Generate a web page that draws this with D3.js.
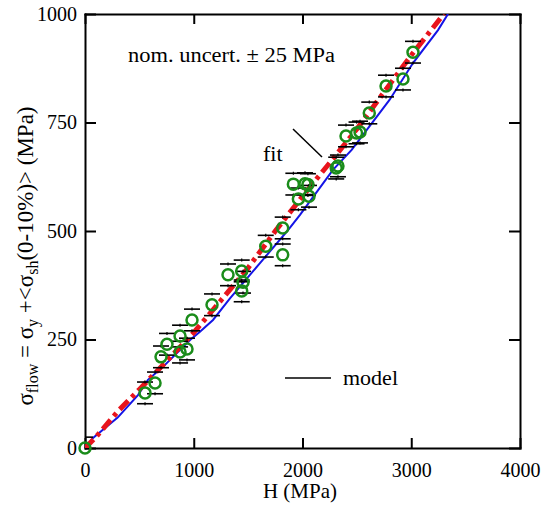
<!DOCTYPE html>
<html>
<head>
<meta charset="utf-8">
<script src="https://cdn.jsdelivr.net/npm/d3@7"></script>
<style>
  body { margin: 0; background: #fff; }
  svg text { font-family: "Liberation Serif", "Times New Roman", serif; fill: #000; }
  .axis path, .axis line { stroke: #000; stroke-width: 2; }
  .axis text { font-size: 20px; }
</style>
</head>
<body>
<div id="chart"></div>
<script>
// measured points: H (MPa) and flow stress (MPa)
const pointH = [0, 552, 644, 699, 754, 874, 874, 938, 984, 1168, 1315, 1441, 1453, 1441, 1662, 1818, 1818,
  1916, 2023, 2050, 1962, 2060, 2310, 2326, 2400, 2497, 2529, 2614, 2768, 2924, 3016];
const pointS = [0, 127, 150, 210, 239, 258, 221, 228, 295, 330, 399, 408, 382, 362, 465, 445, 507,
  608, 609, 607, 574, 580, 645, 650, 719, 726, 728, 772, 834, 850, 912];
const uncert = 25;

// model curve (blue)
const modelH = [0, 16, 74, 300, 487, 579, 717, 966, 1057, 1177, 1333, 1609, 1867, 1977, 2280, 2452, 2800, 3016, 3246, 3338];
const modelS = [0, 3, 23, 70, 122, 157, 187, 249, 268, 295, 345, 426, 502, 537, 641, 687, 802, 887, 963, 1000];

// fit curve (red dash-dot)
const fitH = [0, 100, 300, 500, 750, 1000, 1250, 1500, 1750, 2000, 2250, 2500, 2750, 3000, 3300];
const fitS = [0, 25, 84, 135, 200, 266, 340, 415, 500, 580, 657, 735, 820, 905, 1000];

const xTicks = [0, 1000, 2000, 3000, 4000];
const yTicks = [0, 250, 500, 750, 1000];

const W = 555, H = 510;
const margin = { left: 85, top: 14, right: 35, bottom: 62 };
const width = W - margin.left - margin.right;
const height = H - margin.top - margin.bottom;
const serif = "'Liberation Serif', 'Times New Roman', serif";

const svg = d3.select("#chart").append("svg")
  .attr("width", W).attr("height", H);
const g = svg.append("g").attr("transform", `translate(${margin.left},${margin.top})`);

//----------------------------SCALES----------------------------//
const x = d3.scaleLinear().domain([0, 4000]).range([0, width]);
const y = d3.scaleLinear().domain([0, 1000]).range([height, 0]);
const fmt = d3.format("d");

g.append("clipPath").attr("id", "clip")
  .append("rect").attr("width", width).attr("height", height);

//-----------------------------AXES-----------------------------//
g.append("g").attr("class", "axis")
  .attr("transform", `translate(0,${height})`)
  .call(d3.axisBottom(x).tickValues(xTicks).tickFormat(fmt).tickSizeInner(-10).tickSizeOuter(0).tickPadding(15));
g.append("g").attr("class", "axis")
  .call(d3.axisTop(x).tickValues(xTicks).tickSizeInner(-10).tickSizeOuter(0).tickFormat(""));
g.append("g").attr("class", "axis")
  .call(d3.axisLeft(y).tickValues(yTicks).tickFormat(fmt).tickSizeInner(-11).tickSizeOuter(0).tickPadding(8));
g.append("g").attr("class", "axis")
  .attr("transform", `translate(${width},0)`)
  .call(d3.axisRight(y).tickValues(yTicks).tickSizeInner(-11).tickSizeOuter(0).tickFormat(""));
g.selectAll(".axis").attr("font-family", serif).attr("font-size", 20);
g.selectAll(".axis .domain").attr("stroke-linecap", "square");

//----------------------------LINES-----------------------------//
const plot = g.append("g").attr("clip-path", "url(#clip)");
const line = d3.line().x(d => x(d[0])).y(d => y(d[1]));

plot.append("path")
  .attr("d", line(modelH.map((h, i) => [h, modelS[i]])))
  .attr("fill", "none").attr("stroke", "#1414e6").attr("stroke-width", 2);

plot.append("path")
  .attr("d", line(fitH.map((h, i) => [h, fitS[i]])))
  .attr("fill", "none").attr("stroke", "#e8141c").attr("stroke-width", 5)
  .attr("stroke-dasharray", "12,5,4,5");

// error caps (+/- nominal uncertainty)
const pts = pointH.map((h, i) => ({ h: h, s: pointS[i] }));
const caps = plot.selectAll(".cap").data(pts.flatMap(d => [[d.h, d.s + uncert], [d.h, d.s - uncert]]))
  .enter().append("g").attr("class", "cap");
caps.append("line")
  .attr("x1", d => x(d[0]) - 8).attr("x2", d => x(d[0]) + 8)
  .attr("y1", d => y(d[1])).attr("y2", d => y(d[1]))
  .attr("stroke", "#000").attr("stroke-width", 1.6);
caps.append("line")
  .attr("x1", d => x(d[0])).attr("x2", d => x(d[0]))
  .attr("y1", d => y(d[1]) - 1.5).attr("y2", d => y(d[1]) + 1.5)
  .attr("stroke", "#000").attr("stroke-width", 1.2);

//---------------------------POINTS-----------------------------//
g.selectAll(".pt").data(pts).enter().append("circle")
  .attr("cx", d => x(d.h)).attr("cy", d => y(d.s)).attr("r", 5.5)
  .attr("fill", "none").attr("stroke", "#1a8c1a").attr("stroke-width", 2.5);

//--------------------------ANNOTATION--------------------------//
svg.append("text").attr("x", 128).attr("y", 62)
  .attr("font-size", 20).attr("textLength", 207).attr("lengthAdjust", "spacingAndGlyphs")
  .text("nom. uncert. ± 25 MPa");

svg.append("text").attr("x", 263).attr("y", 161).attr("font-size", 22).text("fit");
svg.append("line").attr("x1", 293).attr("y1", 129).attr("x2", 322).attr("y2", 157)
  .attr("stroke", "#000").attr("stroke-width", 1.5);

svg.append("line").attr("x1", 285).attr("y1", 378).attr("x2", 331).attr("y2", 378)
  .attr("stroke", "#000").attr("stroke-width", 1.5);
svg.append("text").attr("x", 343).attr("y", 385)
  .attr("font-size", 20).attr("textLength", 55).attr("lengthAdjust", "spacingAndGlyphs")
  .text("model");

// axis titles
svg.append("text").attr("x", 300).attr("y", 498).attr("text-anchor", "middle")
  .attr("font-size", 21).text("H (MPa)");

const yl = svg.append("text").attr("transform", "translate(33,256) rotate(-90)")
  .attr("text-anchor", "middle").attr("font-size", 23);
const parts = [["σ", 0], ["flow", 1], [" = σ", 0], ["y", 1], [" +<σ", 0], ["sh", 1], ["(0-10%)> (MPa)", 0]];
let shifted = false;
parts.forEach(p => {
  const t = yl.append("tspan").text(p[0]);
  if (p[1] && !shifted) { t.attr("dy", 5).attr("font-size", 16); shifted = true; }
  else if (p[1]) { t.attr("font-size", 16); }
  else if (shifted) { t.attr("dy", -5); shifted = false; }
});
</script>
</body>
</html>
